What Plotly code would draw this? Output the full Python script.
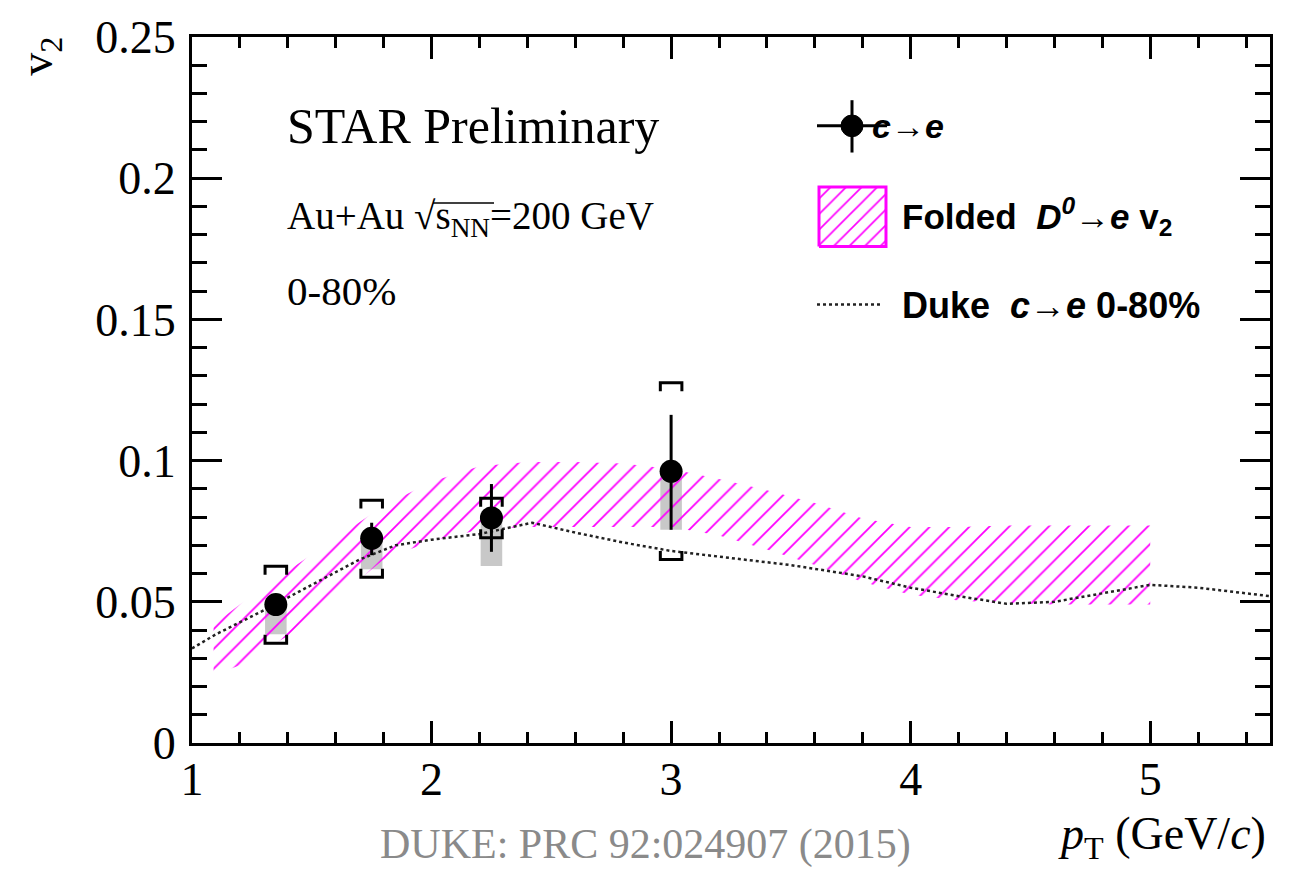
import plotly.graph_objects as go

# ---------------- data ----------------
# c -> e measured points
pt = [1.35, 1.75, 2.25, 3.0]
v2 = [0.049, 0.0725, 0.0797, 0.0962]
stat_up = [0.002, 0.0055, 0.012, 0.020]
stat_dn = [0.002, 0.006, 0.012, 0.0207]
sys_hi = [0.0626, 0.086, 0.0867, 0.1276]   # bracket tops
sys_lo = [0.0353, 0.0587, 0.0727, 0.065]   # bracket bottoms
gray_len = [0.0105, 0.011, 0.017, 0.0207]  # one-sided grey box below point

# Folded D0 -> e v2 band
band_x = [1.09, 1.2, 1.4, 1.6, 1.8, 2.0, 2.2, 2.4, 2.6, 2.8, 3.0, 3.2, 3.4, 3.6, 3.8, 4.0, 4.2, 4.4, 4.6, 4.8, 5.0]
band_hi = [0.042, 0.049, 0.061, 0.0725, 0.084, 0.0925, 0.098, 0.0995, 0.0995, 0.099, 0.097, 0.0935, 0.0895,
           0.085, 0.0795, 0.0765, 0.0765, 0.077, 0.077, 0.077, 0.077]
band_lo = [0.024, 0.0275, 0.038, 0.051, 0.065, 0.0715, 0.0755, 0.0765, 0.0765, 0.0765, 0.0765, 0.0735, 0.0685,
           0.063, 0.057, 0.0525, 0.0505, 0.0495, 0.049, 0.049, 0.049]

# Duke model curve
duke_x = [1.0, 1.1, 1.3, 1.5, 1.7, 1.85, 2.0, 2.2, 2.42, 2.6, 2.8, 3.0, 3.2, 3.5, 3.8, 4.0, 4.2, 4.4, 4.6,
          4.8, 5.0, 5.2, 5.5]
duke_y = [0.0335, 0.0385, 0.047, 0.056, 0.065, 0.070, 0.072, 0.074, 0.078, 0.0745, 0.071, 0.068, 0.066,
          0.063, 0.059, 0.055, 0.052, 0.0493, 0.050, 0.053, 0.056, 0.055, 0.052]

x_ticks = [1, 2, 3, 4, 5]
y_ticks = [0, 0.05, 0.1, 0.15, 0.2, 0.25]
y_ticktext = ["0", "0.05", "0.1", "0.15", "0.2", "0.25"]

# ---------------- styling constants ----------------
W, H = 1292, 874
L, R, T, B = 192, 22, 28, 131
PW, PH = W - L - R, H - T - B
MAG = "#ff00ff"
SERIF = "Liberation Serif, Times New Roman, serif"
SANS = "Liberation Sans, Arial, sans-serif"
BOXW = 0.045
CAP = 0.003


def px(x):
    return (x - L) / PW


def py(y):
    return (H - B - y) / PH


fig = go.Figure()

pattern = dict(shape="/", fgcolor=MAG, fgopacity=1, bgcolor="rgba(0,0,0,0)", size=14, solidity=0.13,
               fillmode="overlay")

# band
fig.add_trace(go.Scatter(
    x=band_x + band_x[::-1], y=band_hi + band_lo[::-1], fill="toself",
    fillpattern=pattern, fillcolor="rgba(0,0,0,0)", line=dict(width=0), mode="lines",
    hoverinfo="skip", showlegend=False))

# Duke curve
fig.add_trace(go.Scatter(x=duke_x, y=duke_y, mode="lines",
                         line=dict(color="#222", width=2.5, dash="dot"), showlegend=False))

# grey boxes
fig.add_trace(go.Bar(x=pt, y=gray_len, base=[v - g for v, g in zip(v2, gray_len)], width=2 * BOXW,
                     marker=dict(color="#c8c8c8", line=dict(width=0)), showlegend=False))

# brackets
bx, by = [], []
for x, hi, lo in zip(pt, sys_hi, sys_lo):
    bx += [x - BOXW, x - BOXW, x + BOXW, x + BOXW, None]
    by += [hi - CAP, hi, hi, hi - CAP, None]
    bx += [x - BOXW, x - BOXW, x + BOXW, x + BOXW, None]
    by += [lo + CAP, lo, lo, lo + CAP, None]
fig.add_trace(go.Scatter(x=bx, y=by, mode="lines", line=dict(color="black", width=3), showlegend=False))

# points with stat errors
fig.add_trace(go.Scatter(
    x=pt, y=v2, mode="markers",
    marker=dict(color="black", size=23),
    error_y=dict(type="data", symmetric=False, array=stat_up, arrayminus=stat_dn,
                 color="black", thickness=3, width=0),
    showlegend=False))

# hatched legend box via auxiliary axes
lx0, lx1, ly0, ly1 = px(817), px(888), py(242), py(178)
fig.add_trace(go.Scatter(
    x=[0, 1, 1, 0, 0], y=[0, 0, 1, 1, 0], xaxis="x3", yaxis="y3", fill="toself",
    fillpattern=dict(shape="/", fgcolor=MAG, fgopacity=1, bgcolor="rgba(0,0,0,0)", size=11, solidity=0.15),
    fillcolor="rgba(0,0,0,0)", line=dict(color=MAG, width=3), mode="lines", showlegend=False,
    hoverinfo="skip"))

axis_common = dict(showline=True, linecolor="black", linewidth=3, ticks="inside", tickcolor="black",
                   tickwidth=3, showgrid=False, zeroline=False, mirror="allticks")

fig.update_layout(
    width=W, height=H, margin=dict(l=L, r=R, t=T, b=B),
    paper_bgcolor="white", plot_bgcolor="white", barmode="overlay", showlegend=False,
    xaxis=dict(range=[1, 5.5], tickvals=x_ticks, ticklen=22,
               tickfont=dict(family=SERIF, size=46, color="black"), ticklabelstandoff=-6,
               minor=dict(ticks="inside", dtick=0.2, tick0=1, ticklen=11, tickwidth=3, tickcolor="black"),
               **axis_common),
    yaxis=dict(range=[0, 0.25], tickvals=y_ticks, ticktext=y_ticktext, ticklen=30,
               tickfont=dict(family=SERIF, size=46, color="black"), ticklabelstandoff=4,
               minor=dict(ticks="inside", dtick=0.01, tick0=0, ticklen=15, tickwidth=3, tickcolor="black"),
               **axis_common),
    xaxis3=dict(domain=[lx0, lx1], range=[-0.03, 1.03], visible=False, anchor="y3"),
    yaxis3=dict(domain=[ly0, ly1], range=[-0.03, 1.03], visible=False, anchor="x3"),
)

# legend glyphs for c->e and Duke, overline of sqrt
shapes = [
    dict(type="line", xref="paper", yref="paper", x0=px(817), x1=px(887), y0=py(118), y1=py(118),
         line=dict(color="black", width=3)),
    dict(type="line", xref="paper", yref="paper", x0=px(852), x1=px(852), y0=py(92), y1=py(145),
         line=dict(color="black", width=3)),
    dict(type="circle", xref="paper", yref="paper", x0=px(841), x1=px(863), y0=py(129), y1=py(107),
         fillcolor="black", line=dict(color="black", width=1)),
    dict(type="line", xref="paper", yref="paper", x0=px(817), x1=px(883), y0=py(299), y1=py(299),
         line=dict(color="#222", width=2.5, dash="dot")),
    dict(type="line", xref="paper", yref="paper", x0=px(433), x1=px(494), y0=py(196), y1=py(196),
         line=dict(color="black", width=1.5)),
]
fig.update_layout(shapes=shapes)


def ann(text, x, y, size, family, color="black", xanchor="left", angle=0):
    fig.add_annotation(text=text, xref="paper", yref="paper", x=px(x), y=py(y), showarrow=False,
                       xanchor=xanchor, yanchor="middle", textangle=angle,
                       font=dict(family=family, size=size, color=color))


ann("STAR Preliminary", 285, 118, 50, SERIF)
ann("Au+Au √s<sub>NN</sub>=200 GeV", 285, 212, 39, SERIF)
ann("0-80%", 285, 285, 41, SERIF)
ann("<b><i>c</i>→<i>e</i></b>", 870, 118, 34, SANS)
ann("<b>Folded  <i>D<sup>0</sup></i>→<i>e</i> v<sub>2</sub></b>", 900, 210, 35, SANS)
ann("<b>Duke  <i>c</i>→<i>e</i> 0-80%</b>", 900, 300, 36, SANS)
ann("v<sub>2</sub>", 40, 48, 46, SERIF, angle=-90, xanchor="center")
ann("<i>p</i><sub>T</sub> (GeV/<i>c</i>)", 1268, 838, 46, SERIF, xanchor="right")
ann("DUKE: PRC 92:024907 (2015)", 378, 846, 42, SERIF, color="#8a8a8a")

fig.write_html("out.html", post_script="document.body.style.margin='0px';",
               config={"displayModeBar": False})
